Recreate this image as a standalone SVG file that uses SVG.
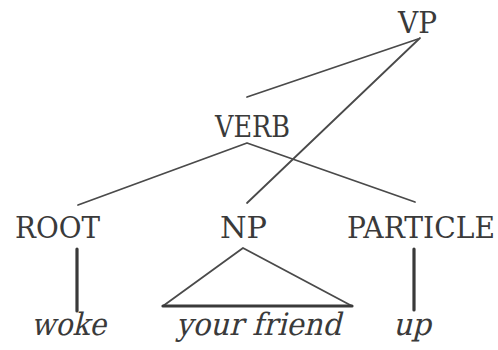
<svg xmlns="http://www.w3.org/2000/svg" width="498" height="350" viewBox="0 0 498 350">
  <style>
    .lbl { font-family: 'DejaVu Serif', serif; font-size: 29px; fill: #3a3a3a; }
    .word { font-family: 'DejaVu Serif', serif; font-size: 31px; fill: #3a3a3a; }
    .edge { stroke: #4a4a4a; stroke-width: 1.8; fill: none; stroke-linecap: round; stroke-linejoin: round; }
    .thick { stroke: #3a3a3a; stroke-width: 3.2; fill: none; stroke-linecap: round; }
  </style>
  <rect width="498" height="350" fill="#ffffff"/>

  <g id="connectors">
    <!-- VP branches -->
    <path class="edge" d="M418 39 L247 97"/>
    <path class="edge" d="M420 38 L247 203"/>
    <!-- VERB branches -->
    <path class="edge" d="M78 205 L247 143 L415 202"/>
    <!-- NP triangle -->
    <path class="edge" d="M163 306 L243 248 L352 306"/>
    <path class="thick" d="M163 306 L352 306"/>
    <!-- unary branches -->
    <path class="thick" d="M77 249 L77 311"/>
    <path class="thick" d="M414 249 L414 310"/>
  </g>

  <g id="vp"><text class="lbl" x="398" y="33" textLength="39" lengthAdjust="spacingAndGlyphs">VP</text></g>
  <g id="verb"><text class="lbl" x="215" y="137" textLength="75" lengthAdjust="spacingAndGlyphs">VERB</text></g>
  <g id="root"><text class="lbl" x="15" y="238" textLength="85" lengthAdjust="spacingAndGlyphs">ROOT</text></g>
  <g id="np"><text class="lbl" x="220" y="238" textLength="47" lengthAdjust="spacingAndGlyphs">NP</text></g>
  <g id="particle"><text class="lbl" x="347" y="238" textLength="148" lengthAdjust="spacingAndGlyphs">PARTICLE</text></g>

  <!-- leaf words: upright serif slanted by a skew -->
  <g id="woke" transform="translate(31 335) skewX(-14)"><text class="word" x="0" y="0" textLength="75" lengthAdjust="spacingAndGlyphs">woke</text></g>
  <g id="your-friend" transform="translate(176 335) skewX(-14)"><text class="word" x="0" y="0" textLength="165" lengthAdjust="spacingAndGlyphs">your friend</text></g>
  <g id="up" transform="translate(393 335) skewX(-14)"><text class="word" x="0" y="0" textLength="38" lengthAdjust="spacingAndGlyphs">up</text></g>
</svg>
